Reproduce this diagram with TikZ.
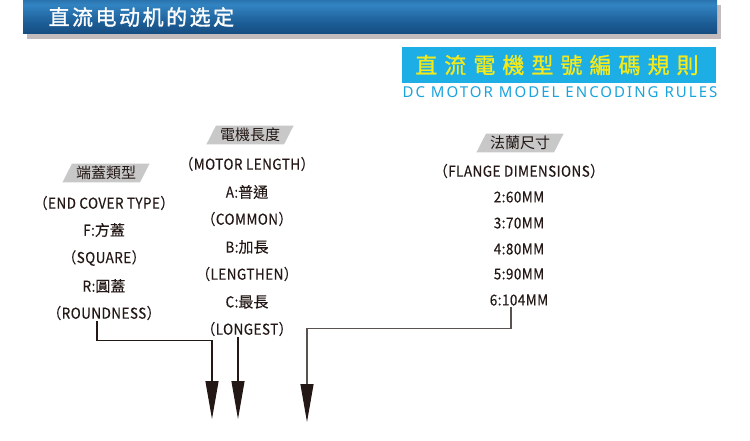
\documentclass[tikz,border=0pt]{standalone}
\usepackage{fontspec}
\setmainfont{Noto Sans CJK TC}
\newfontfamily\cjk[FakeBold=0.25]{Noto Sans CJK TC}
\newfontfamily\tagfont{Noto Sans CJK TC}
\newfontfamily\cjksc[LetterSpace=12,FakeBold=1.4]{Noto Sans CJK SC}
\newfontfamily\narrow[FakeStretch=0.9,LetterSpace=3,FakeBold=0.25]{Noto Sans CJK TC}
\newfontfamily\wide[LetterSpace=32,FakeBold=1]{Noto Sans CJK TC}
\newfontfamily\enwide[LetterSpace=13.5]{Noto Sans}
\usetikzlibrary{shapes.geometric, arrows.meta, positioning}
\usepackage{xcolor}
\definecolor{hdTop}{HTML}{174B7D}
\definecolor{hdLight}{HTML}{3284C2}
\definecolor{hdMid}{HTML}{1C5C95}
\definecolor{hdDark}{HTML}{0B3663}
\definecolor{shadowGray}{HTML}{C4BCBC}
\definecolor{skyBlue}{HTML}{1DAEE5}
\definecolor{ruleYellow}{HTML}{F2EA1C}
\definecolor{ruleBlue}{HTML}{1AA3DC}
\definecolor{tagGray}{HTML}{C8C8C8}
\definecolor{inkBlack}{HTML}{231815}
\pgfdeclareverticalshading{hdbar}{100bp}{color(0bp)=(hdDark); color(40bp)=(hdMid); color(68bp)=(hdLight); color(85bp)=(hdMid); color(100bp)=(hdTop)}
\tikzstyle{tag} = [
    trapezium,
    trapezium left angle=63,
    trapezium right angle=117,
    fill=tagGray,
    inner xsep=4pt,
    inner ysep=2.5pt,
    text=inkBlack,
    font=\tagfont\fontsize{15}{15}\selectfont
]
\tikzstyle{item} = [
    inner sep=1pt,
    text=inkBlack,
    font=\narrow\fontsize{15}{15}\selectfont
]
\tikzstyle{link} = [
    line width=1.1pt,
    draw=inkBlack,
    -{Triangle[width=13pt,length=38pt,color=inkBlack]}
]

\begin{document}
\begin{tikzpicture}[x=1pt,y=-1pt]
\useasboundingbox (0,0) rectangle (750,440);
% Title bar
\fill[shadowGray] (27,5) rectangle (721,39);
\shade[shading=hdbar] (23,0) rectangle (717,33);
\node[anchor=west,text=white,font=\cjksc\fontsize{21}{21}\selectfont] (title) at (45,17) {直流电动机的选定};

% Encoding rules banner
\fill[skyBlue] (402,47) rectangle (716,83);
\node[text=ruleYellow,font=\wide\fontsize{22}{22}\selectfont] (bannerZh) at (557,65) {直流電機型號編碼規則};
\node[text=ruleBlue,font=\enwide\fontsize{15}{15}\selectfont] (bannerEn) at (560,92) {DC MOTOR MODEL ENCODING RULES};

% End cover type
\node[tag] (tagCover) at (106,173) {端蓋類型};
\node[item] (coverEn) at (104,203) {（END COVER TYPE）};
\node[item] (coverF) at (104,230) {F:\cjk 方蓋};
\node[item] (square) at (104,258) {（SQUARE）};
\node[item] (coverR) at (104,286) {R:\cjk 圓蓋};
\node[item] (round) at (104,313) {（ROUNDNESS）};

% Motor length
\node[tag] (tagLength) at (250,135) {電機長度};
\node[item] (lengthEn) at (247,164) {（MOTOR LENGTH）};
\node[item] (lenA) at (247,192) {A:\cjk 普通};
\node[item] (common) at (247,219) {（COMMON）};
\node[item] (lenB) at (247,247) {B:\cjk 加長};
\node[item] (lengthen) at (247,274) {（LENGTHEN）};
\node[item] (lenC) at (247,302) {C:\cjk 最長};
\node[item] (longest) at (247,329) {（LONGEST）};

% Flange dimensions
\node[tag] (tagFlange) at (520,143) {法蘭尺寸};
\node[item] (flangeEn) at (519,171) {（FLANGE DIMENSIONS）};
\node[item] (mm60) at (519,197) {2:60MM};
\node[item] (mm70) at (519,223) {3:70MM};
\node[item] (mm80) at (519,249) {4:80MM};
\node[item] (mm90) at (519,274) {5:90MM};
\node[item] (mm104) at (519,300) {6:104MM};

% Arrows down
\coordinate (endCover) at (212,419);
\coordinate (endLength) at (238,419);
\coordinate (endFlange) at (307,422);
\draw[link] ([xshift=-7pt]round.south) -- ++(0,19) -| (endCover);
\draw[link] (endLength |- longest.south) -- (endLength);
\draw[link,draw=inkBlack!75] ([xshift=-8pt]mm104.south) -- ++(0,22) -| (endFlange);
\end{tikzpicture}
\end{document}
